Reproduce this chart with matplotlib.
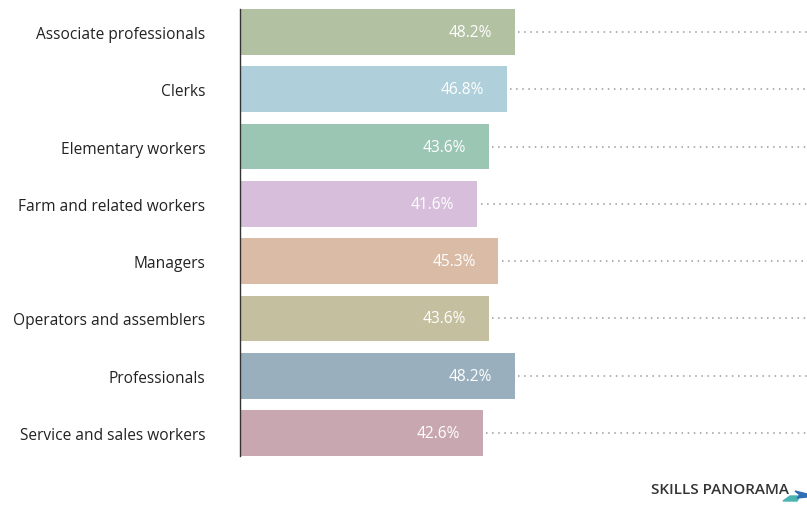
import numpy as np
import matplotlib.pyplot as plt
from matplotlib.patches import Polygon

# data
categories = ["Associate professionals", "Clerks", "Elementary workers",
              "Farm and related workers", "Managers", "Operators and assemblers",
              "Professionals", "Service and sales workers"]
values = [48.2, 46.8, 43.6, 41.6, 45.3, 43.6, 48.2, 42.6]
colors = ["#b3c1a3", "#afd0da", "#9cc6b4", "#d7bfdb",
          "#dabba6", "#c4bf9f", "#9aafbd", "#c9a7b0"]

plt.rcParams['font.family'] = ['Open Sans', 'DejaVu Sans']

W, H = 807, 506
fig = plt.figure(figsize=(W / 100, H / 100), dpi=100)
ax = fig.add_axes([240 / W, 1 - 457 / H, 1 - 240 / W, (457 - 10) / H])

y = np.arange(len(categories))
xmax = 99.4
ax.barh(y, values, height=0.8, color=colors, zorder=2)

for i, v in enumerate(values):
    # dotted leader line to the right edge
    ax.plot([v + 0.6, xmax], [i, i], color="#9a9a9a", lw=1.1,
            linestyle=(0, (1, 3)), zorder=1)
    ax.text(v - 4.0, i, f"{v}%", ha="right", va="center",
            color="white", fontsize=11.2)

ax.set_xlim(0, xmax)
ax.set_ylim(7.4, -0.4)
ax.set_yticks(y)
ax.set_yticklabels(categories, fontsize=11.2, color="#222222")
ax.tick_params(axis="y", length=0, pad=25)
ax.set_xticks([])
for s in ["top", "right", "bottom"]:
    ax.spines[s].set_visible(False)
ax.spines["left"].set_color("#333333")
ax.spines["left"].set_linewidth(1.0)

# logo
fig.text(789 / W, 1 - 490 / H, "SKILLS PANORAMA", ha="right", va="center",
         fontsize=11.0, color="#333333", fontweight="semibold")
teal = Polygon([[783, 502], [790, 497], [800, 497], [797, 502]], closed=True,
               transform=None, color="#4bb3b0")
blue = Polygon([[795, 492], [807, 495], [807, 498], [797, 499], [800, 496]], closed=True,
               transform=None, color="#2f6db5")
# convert pixel coords (top-left origin) into display coords
for p in (teal, blue):
    xy = p.get_xy()
    xy[:, 1] = H - xy[:, 1]
    p.set_xy(xy)
    fig.patches.append(p)

fig.savefig("out.png", dpi=100)
